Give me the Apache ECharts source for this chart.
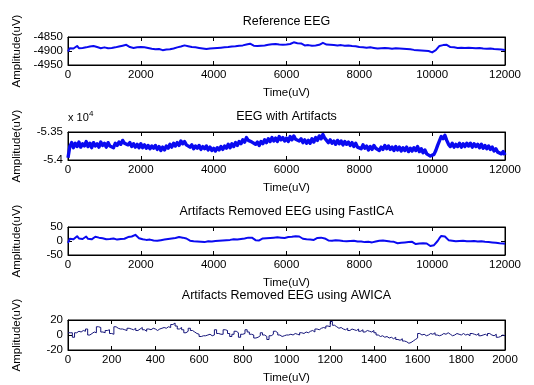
<!DOCTYPE html>
<html>
<head>
<meta charset="utf-8">
<script src="https://cdn.jsdelivr.net/npm/echarts@6/dist/echarts.min.js"></script>
<style>
html,body{margin:0;padding:0;background:#fff;}
#chart{width:534px;height:385px;}
</style>
</head>
<body>
<div id="chart"></div>
<script>
// ---------- DATA ----------
const panelTitles = ['Reference EEG', 'EEG with Artifacts', 'Artifacts Removed EEG using FastICA', 'Artifacts Removed EEG using AWICA'];
const xAxisName = 'Time(uV)';
const yAxisName = 'Amplitude(uV)';

// sample spacing (time units) of each trace
const sampleStep = [50, 50, 50, 10];

// x-axis ticks
const xTicksLong = [0, 2000, 4000, 6000, 8000, 10000, 12000];
const xTicksShort = [0, 200, 400, 600, 800, 1000, 1200, 1400, 1600, 1800, 2000];

// y-axis ticks
const yTicks1 = [-4950, -4900, -4850];
const yTicks2 = [-54000, -53500];         // shown as -5.4, -5.35 (x 10^4)
const yTicks3 = [-50, 0, 50];
const yTicks4 = [-20, 0, 20];

// Reference EEG (t = 0..12000, every 50)
const referenceEEG = [
 -4902,-4890,-4884,-4891,-4886,-4882,-4890,-4885,-4889,-4883,-4887,-4891,-4884,-4888,-4882,-4889,-4886,-4883,-4890,-4885,
 -4887,-4883,-4890,-4885,-4889,-4882,-4887,-4891,-4884,-4886,-4881,-4888,-4878,-4884,-4886,-4882,-4889,-4885,-4887,-4891,
 -4886,-4890,-4887,-4893,-4889,-4885,-4892,-4888,-4894,-4890,-4893,-4889,-4897,-4893,-4895,-4890,-4894,-4888,-4891,-4885,
 -4887,-4882,-4884,-4877,-4880,-4885,-4883,-4888,-4886,-4891,-4887,-4892,-4889,-4885,-4891,-4888,-4893,-4889,-4891,-4894,
 -4890,-4894,-4889,-4892,-4888,-4893,-4887,-4891,-4886,-4889,-4884,-4888,-4883,-4886,-4881,-4885,-4880,-4882,-4877,-4880,
 -4874,-4878,-4881,-4885,-4882,-4886,-4881,-4884,-4880,-4883,-4878,-4882,-4876,-4880,-4875,-4879,-4877,-4873,-4878,-4875,
 -4877,-4873,-4875,-4871,-4869,-4874,-4872,-4876,-4873,-4877,-4880,-4876,-4879,-4875,-4881,-4877,-4880,-4876,-4878,-4874,
 -4871,-4875,-4877,-4881,-4878,-4882,-4879,-4883,-4880,-4884,-4879,-4883,-4881,-4885,-4880,-4884,-4882,-4886,-4883,-4887,
 -4886,-4890,-4887,-4891,-4888,-4892,-4887,-4891,-4889,-4886,-4891,-4895,-4890,-4893,-4889,-4885,-4890,-4887,-4892,-4889,
 -4890,-4894,-4891,-4895,-4892,-4896,-4893,-4897,-4894,-4891,-4896,-4893,-4897,-4894,-4898,-4895,-4899,-4896,-4900,-4902,
 -4905,-4901,-4897,-4890,-4882,-4876,-4879,-4872,-4878,-4883,-4886,-4882,-4887,-4884,-4889,-4885,-4888,-4884,-4889,-4886,
 -4888,-4884,-4889,-4886,-4890,-4885,-4889,-4887,-4891,-4888,-4892,-4888,-4891,-4889,-4893,-4890,-4894,-4891,-4895,-4892,
 -4896
];

// EEG with artifacts (t = 0..12000, every 50)
const artifactEEG = [
 -53960,-53760,-53690,-53780,-53700,-53760,-53680,-53770,-53710,-53750,-53670,-53760,-53700,-53780,-53690,-53750,-53710,-53770,-53680,-53740,
 -53700,-53770,-53690,-53750,-53720,-53780,-53700,-53740,-53680,-53720,-53650,-53700,-53670,-53730,-53690,-53760,-53710,-53770,-53720,-53780,
 -53710,-53780,-53730,-53790,-53740,-53800,-53750,-53790,-53740,-53810,-53760,-53830,-53770,-53820,-53750,-53790,-53720,-53770,-53700,-53750,
 -53690,-53740,-53660,-53710,-53670,-53730,-53700,-53770,-53730,-53800,-53750,-53790,-53740,-53810,-53760,-53800,-53750,-53820,-53770,-53830,
 -53790,-53840,-53780,-53820,-53760,-53810,-53750,-53790,-53720,-53780,-53710,-53760,-53690,-53740,-53670,-53710,-53640,-53680,-53600,-53650,
 -53620,-53680,-53650,-53720,-53680,-53740,-53670,-53710,-53640,-53690,-53620,-53670,-53600,-53660,-53610,-53670,-53580,-53640,-53600,-53660,
 -53610,-53670,-53580,-53640,-53570,-53630,-53600,-53660,-53620,-53690,-53640,-53700,-53650,-53700,-53620,-53680,-53600,-53650,-53570,-53620,
 -53545,-53610,-53630,-53690,-53640,-53700,-53660,-53720,-53650,-53710,-53660,-53730,-53670,-53720,-53680,-53740,-53690,-53760,-53700,-53770,
 -53740,-53800,-53730,-53790,-53750,-53820,-53760,-53810,-53740,-53790,-53760,-53830,-53770,-53810,-53740,-53800,-53750,-53810,-53770,-53830,
 -53760,-53820,-53770,-53840,-53780,-53830,-53770,-53850,-53790,-53840,-53780,-53830,-53760,-53850,-53800,-53870,-53820,-53890,-53870,-53930,
 -53960,-53900,-53830,-53740,-53660,-53580,-53620,-53560,-53650,-53720,-53760,-53700,-53770,-53720,-53760,-53700,-53770,-53710,-53760,-53700,
 -53750,-53700,-53770,-53710,-53760,-53720,-53780,-53720,-53790,-53740,-53800,-53750,-53810,-53770,-53840,-53800,-53860,-53830,-53890,-53850,
 -53910
];

// FastICA cleaned EEG (t = 0..12000, every 50)
const fastIcaEEG = [
 -7,8,14,6,12,17,9,14,7,12,16,8,13,6,11,15,8,12,5,10,
 13,6,11,7,14,9,12,5,10,7,13,8,11,14,9,16,12,22,15,10,
 12,6,10,4,9,5,8,2,6,1,-3,3,-1,5,2,7,3,9,5,11,
 8,14,18,12,15,9,5,1,4,-1,3,-2,2,-3,1,-4,2,-1,3,-2,
 -5,0,-4,1,-3,2,-2,3,0,4,1,6,2,5,3,7,4,9,6,12,
 18,12,8,3,7,2,6,9,5,10,6,11,7,12,8,13,9,12,7,11,
 9,14,10,15,11,17,23,16,12,8,11,6,10,5,9,4,8,11,7,12,
 14,9,6,2,5,1,6,3,7,2,5,0,4,-1,3,0,5,1,4,-2,
 2,-2,3,-4,1,-3,2,-5,0,-2,-6,1,-3,2,-4,0,-6,-2,-7,-3,
 -4,-8,-2,-6,-9,-5,-10,-4,-8,-3,-7,-11,-6,-9,-4,-8,-12,-9,-15,-18,
 -21,-15,-8,0,10,18,24,16,9,3,7,1,5,-1,4,0,6,1,5,-1,
 4,-1,3,0,5,-2,2,-1,4,-3,1,-4,0,-5,-2,-6,-3,-8,-5,-9,
 -10
];

// AWICA cleaned EEG (t = 0..2000, every 10)
const awicaEEG = [
 3,3,-3,3,5,4,6,5,8,0,
 2,4,3,11,10,4,3,6,7,2,
 1,11,9,8,8,7,6,9,8,7,
 9,6,8,10,7,5,8,7,9,8,
 6,8,9,10,9,11,10,14,16,12,
 8,10,7,3,5,9,6,4,2,1,
 -2,-1,-1,0,1,-1,0,7,2,1,
 1,7,6,2,-2,1,5,3,-3,1,
 2,7,4,1,0,-4,-3,-1,3,0,
 -2,-6,-1,1,5,3,0,-2,-1,0,
 0,1,0,2,1,0,3,2,4,3,
 5,6,4,8,7,9,10,9,12,11,
 18,13,11,9,10,8,7,9,6,8,
 7,6,8,5,7,4,6,5,4,6,
 3,0,-2,-1,-3,-2,-4,-3,-5,-3,
 -6,-7,-5,-8,-9,-11,-10,-8,-6,-4,
 2,0,1,-1,0,2,1,3,0,-1,
 0,2,1,3,1,-1,0,2,1,0,
 2,0,1,-1,2,1,0,2,-1,0,
 1,-1,2,0,-1,1,-3,-2,0,-1,
 -1
];

// ---------- LAYOUT / STYLE ----------
const FONT = '"Liberation Sans", Arial, Helvetica, sans-serif';
const plotLeft = 68, plotWidth = 437;
const plotTops = [37, 132, 227, 320];
const plotHeights = [28, 28, 28, 30];
const titleY = [22, 117, 212, 296];
const lineColors = ['#0a0af0', '#0a0af0', '#0a0af0', '#15157a'];
const lineWidths = [2, 3.4, 2, 1];
const stepMode = [false, false, false, 'end'];

const traces = [referenceEEG, artifactEEG, fastIcaEEG, awicaEEG];
const xTickSets = [xTicksLong, xTicksLong, xTicksLong, xTicksShort];
const yTickSets = [yTicks1, yTicks2, yTicks3, yTicks4];

const grids = [], xAxes = [], yAxes = [], series = [], graphics = [];

const tickStyle = {show: true, inside: true, length: 4, lineStyle: {color: '#000', width: 1}};
const lineStyleAx = {show: true, onZero: false, lineStyle: {color: '#000', width: 1}};
const labelStyle = {color: '#000', fontSize: 11.5, fontFamily: FONT};

traces.forEach((trace, i) => {
  const xt = xTickSets[i], yt = yTickSets[i];
  const xMin = xt[0], xMax = xt[xt.length - 1], xInt = xt[1] - xt[0];
  const yMin = yt[0], yMax = yt[yt.length - 1], yInt = yt[1] - yt[0];
  grids.push({left: plotLeft, top: plotTops[i], width: plotWidth, height: plotHeights[i],
              show: true, borderColor: '#000', borderWidth: 1, backgroundColor: '#fff'});
  // bottom x
  xAxes.push({gridIndex: i, type: 'value', position: 'bottom', min: xMin, max: xMax, interval: xInt,
    axisLine: lineStyleAx, axisTick: tickStyle, splitLine: {show: false},
    axisLabel: Object.assign({margin: 4, showMaxLabel: true, showMinLabel: true, formatter: v => String(v)}, labelStyle),
    name: xAxisName, nameLocation: 'middle', nameGap: 22,
    nameTextStyle: {color: '#000', fontSize: 11.5, fontFamily: FONT}});
  // top x (ticks only)
  xAxes.push({gridIndex: i, type: 'value', position: 'top', min: xMin, max: xMax, interval: xInt,
    axisLine: lineStyleAx, axisTick: tickStyle, splitLine: {show: false}, axisLabel: {show: false}});
  // left y
  yAxes.push({gridIndex: i, type: 'value', position: 'left', min: yMin, max: yMax, interval: yInt,
    axisLine: lineStyleAx, axisTick: tickStyle, splitLine: {show: false},
    axisLabel: Object.assign({margin: 5, showMaxLabel: true, showMinLabel: true,
      formatter: i === 1 ? (v => String(+(v / 10000).toFixed(2))) : (v => String(v))}, labelStyle),
    name: yAxisName, nameLocation: 'middle', nameGap: 45, nameRotate: 90,
    nameTextStyle: {color: '#000', fontSize: 11.5, fontFamily: FONT}});
  // right y (ticks only)
  yAxes.push({gridIndex: i, type: 'value', position: 'right', min: yMin, max: yMax, interval: yInt,
    axisLine: lineStyleAx, axisTick: tickStyle, splitLine: {show: false}, axisLabel: {show: false}});

  const step = sampleStep[i];
  series.push({
    type: 'line', xAxisIndex: 2 * i, yAxisIndex: 2 * i, showSymbol: false, symbol: 'none',
    step: stepMode[i], animation: false, silent: true, clip: true,
    lineStyle: {color: lineColors[i], width: lineWidths[i], join: 'round'},
    data: trace.map((v, k) => [k * step, v])
  });

  graphics.push({type: 'text', x: plotLeft + plotWidth / 2, y: titleY[i], silent: true,
    style: {text: panelTitles[i], fill: '#000', font: '12.5px ' + FONT, align: 'center', verticalAlign: 'middle'}});
});

// x 10^4 multiplier for panel 2
graphics.push({type: 'text', x: 68, y: 118, silent: true,
  style: {text: 'x 10', fill: '#000', font: '11px ' + FONT, align: 'left', verticalAlign: 'middle'}});
graphics.push({type: 'text', x: 89, y: 114, silent: true,
  style: {text: '4', fill: '#000', font: '8px ' + FONT, align: 'left', verticalAlign: 'middle'}});

const chart = echarts.init(document.getElementById('chart'), null, {renderer: 'canvas'});
chart.setOption({
  animation: false,
  backgroundColor: '#fff',
  grid: grids,
  xAxis: xAxes,
  yAxis: yAxes,
  series: series,
  graphic: graphics
});
</script>
</body>
</html>
